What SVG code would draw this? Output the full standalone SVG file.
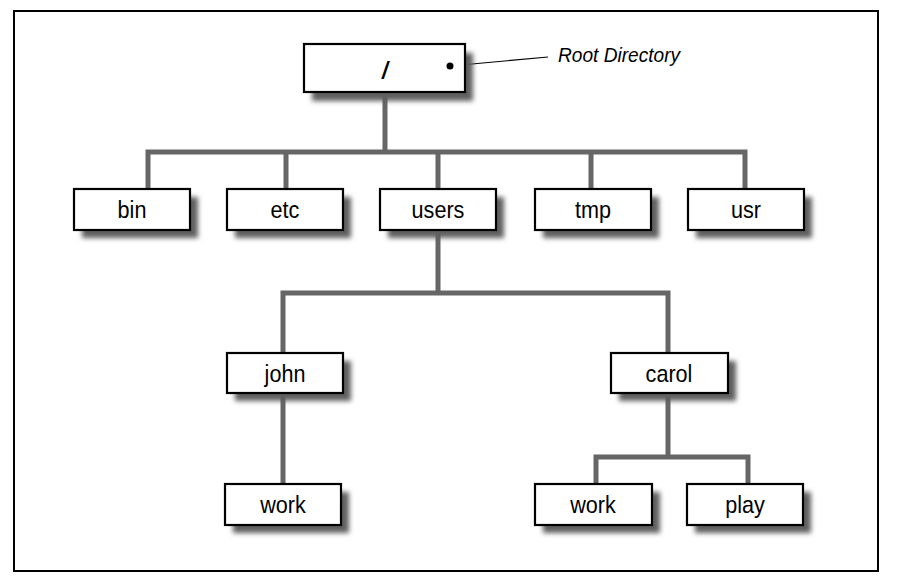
<svg xmlns="http://www.w3.org/2000/svg" width="901" height="583" viewBox="0 0 901 583">
<defs>
<filter id="sh" x="-20%" y="-40%" width="150%" height="200%">
<feGaussianBlur stdDeviation="2.5"/>
</filter>
</defs>
<style>
.box{fill:#fff;stroke:#000;stroke-width:2.2}
.shd{fill:#5e5e5e;filter:url(#sh)}
.lbl{font-family:"Liberation Sans",Arial,sans-serif;font-size:24px;text-anchor:middle;fill:#000}
.conn{fill:none;stroke:#666;stroke-width:5}
</style>
<rect x="14" y="11" width="864" height="560" fill="#fff" stroke="#000" stroke-width="2"/>
<g id="connectors">
<path class="conn" d="M385 92V152M148 189V152H745V189M286 152V189M438 152V189M591 152V189"/>
<path class="conn" d="M438 230V293M283 353V293H668V353"/>
<path class="conn" d="M283 393V484"/>
<path class="conn" d="M668 393V457M596 484V457H748V484"/>
<path d="M450 66L548 57" stroke="#000" stroke-width="1.2" fill="none"/>
</g>
<g id="root">
<rect class="shd" x="312" y="53" width="161" height="48"/>
<rect class="box" x="304" y="44" width="161" height="48"/>
<text class="lbl" transform="translate(385,79) scale(0.9,1)" font-style="italic" font-weight="bold">/</text>
<circle cx="450" cy="66" r="3.5" fill="#000"/>
</g>
<g id="root-label">
<text transform="translate(558,62) scale(0.91,1)" style="font-family:'Liberation Sans',Arial,sans-serif;font-size:21px;font-style:italic">Root Directory</text>
</g>
<g id="bin">
<rect class="shd" x="82" y="197" width="116" height="41"/>
<rect class="box" x="74" y="189" width="116" height="41"/>
<text class="lbl" transform="translate(132,218) scale(0.9,1)">bin</text>
</g>
<g id="etc">
<rect class="shd" x="235" y="197" width="116" height="41"/>
<rect class="box" x="227" y="189" width="116" height="41"/>
<text class="lbl" transform="translate(285,218) scale(0.9,1)">etc</text>
</g>
<g id="users">
<rect class="shd" x="388" y="197" width="116" height="41"/>
<rect class="box" x="380" y="189" width="116" height="41"/>
<text class="lbl" transform="translate(438,218) scale(0.9,1)">users</text>
</g>
<g id="tmp">
<rect class="shd" x="543" y="197" width="116" height="41"/>
<rect class="box" x="535" y="189" width="116" height="41"/>
<text class="lbl" transform="translate(593,218) scale(0.9,1)">tmp</text>
</g>
<g id="usr">
<rect class="shd" x="696" y="197" width="116" height="41"/>
<rect class="box" x="688" y="189" width="116" height="41"/>
<text class="lbl" transform="translate(746,218) scale(0.9,1)">usr</text>
</g>
<g id="john">
<rect class="shd" x="235" y="361" width="116" height="40"/>
<rect class="box" x="227" y="353" width="116" height="40"/>
<text class="lbl" transform="translate(285,382) scale(0.9,1)">john</text>
</g>
<g id="carol">
<rect class="shd" x="619" y="361" width="117" height="40"/>
<rect class="box" x="611" y="353" width="117" height="40"/>
<text class="lbl" transform="translate(669,382) scale(0.9,1)">carol</text>
</g>
<g id="john-work">
<rect class="shd" x="233" y="492" width="116" height="41"/>
<rect class="box" x="225" y="484" width="116" height="41"/>
<text class="lbl" transform="translate(283,513) scale(0.9,1)">work</text>
</g>
<g id="carol-work">
<rect class="shd" x="543" y="492" width="117" height="41"/>
<rect class="box" x="535" y="484" width="117" height="41"/>
<text class="lbl" transform="translate(593,513) scale(0.9,1)">work</text>
</g>
<g id="play">
<rect class="shd" x="695" y="492" width="116" height="41"/>
<rect class="box" x="687" y="484" width="116" height="41"/>
<text class="lbl" transform="translate(745,513) scale(0.9,1)">play</text>
</g>
</svg>
